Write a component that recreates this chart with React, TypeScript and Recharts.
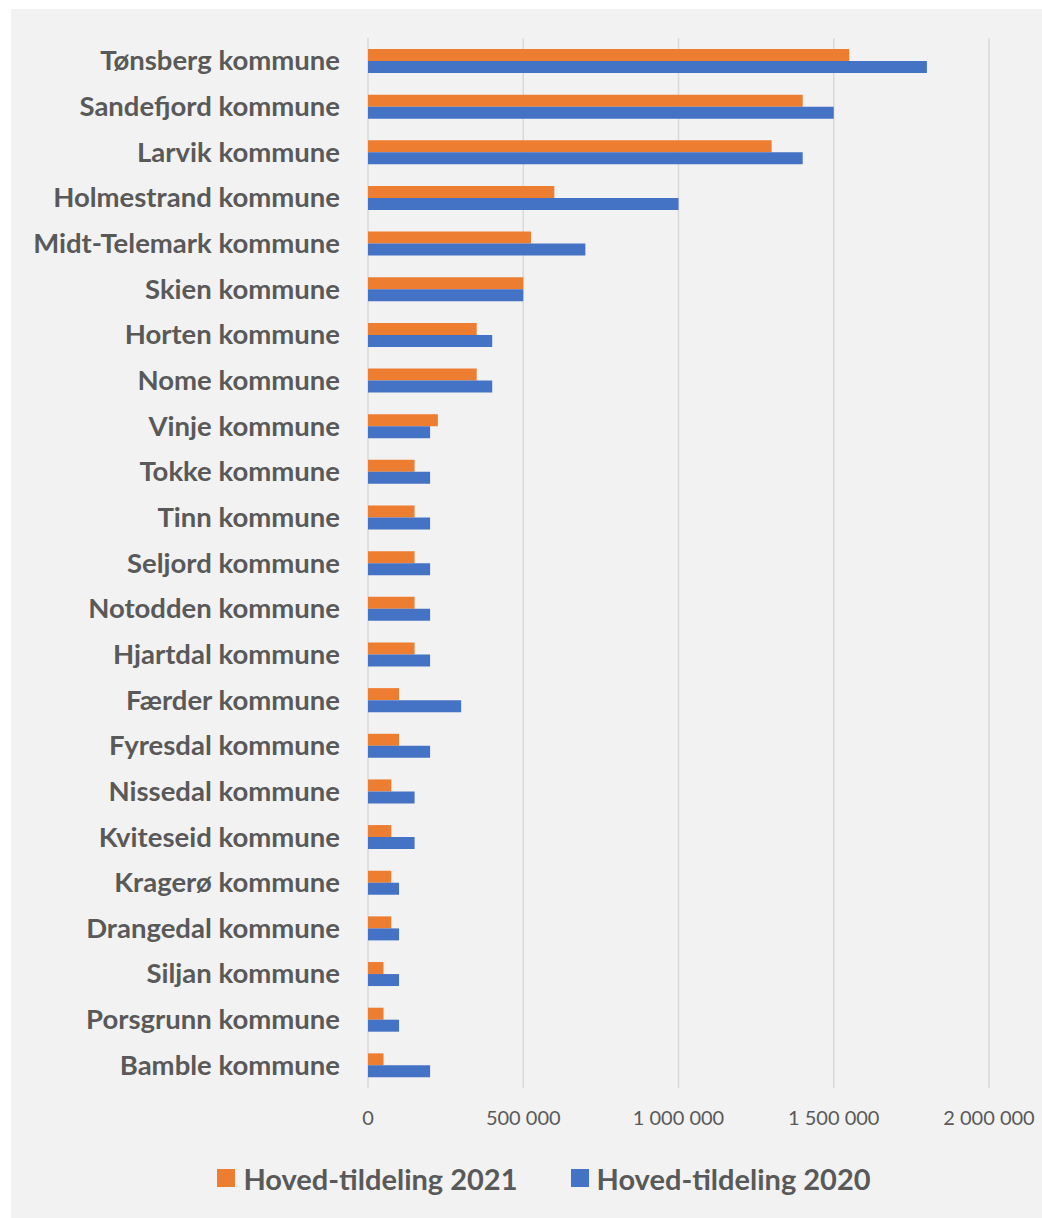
import { BarChart, Bar, XAxis, YAxis, CartesianGrid, Legend } from 'recharts';

const municipalities = [
  'Tønsberg kommune',
  'Sandefjord kommune',
  'Larvik kommune',
  'Holmestrand kommune',
  'Midt-Telemark kommune',
  'Skien kommune',
  'Horten kommune',
  'Nome kommune',
  'Vinje kommune',
  'Tokke kommune',
  'Tinn kommune',
  'Seljord kommune',
  'Notodden kommune',
  'Hjartdal kommune',
  'Færder kommune',
  'Fyresdal kommune',
  'Nissedal kommune',
  'Kviteseid kommune',
  'Kragerø kommune',
  'Drangedal kommune',
  'Siljan kommune',
  'Porsgrunn kommune',
  'Bamble kommune',
];

const tildeling2021 = [
  1550000, 1400000, 1300000, 600000, 525000, 500000, 350000, 350000, 225000, 150000, 150000,
  150000, 150000, 150000, 100000, 100000, 75000, 75000, 75000, 75000, 50000, 50000, 50000,
];

const tildeling2020 = [
  1800000, 1500000, 1400000, 1000000, 700000, 500000, 400000, 400000, 200000, 200000, 200000,
  200000, 200000, 200000, 300000, 200000, 150000, 150000, 100000, 100000, 100000, 100000, 200000,
];

const xTicks = [0, 500000, 1000000, 1500000, 2000000];

const chartData = municipalities.map((name, i) => ({
  name,
  y2021: tildeling2021[i],
  y2020: tildeling2020[i],
}));

const TEXT = '#595959';
const ORANGE = '#ED7D31';
const BLUE = '#4472C4';
const FONT = 'Lato, "Open Sans", sans-serif';

const fmt = (v: number) => String(v).replace(/\B(?=(\d{3})+(?!\d))/g, ' ');

function CategoryTick(props: any) {
  const { x, y, payload } = props;
  return (
    <text
      x={x - 28}
      y={y}
      dy="0.35em"
      textAnchor="end"
      fill={TEXT}
      fontSize={27.5}
      fontWeight={700}
      fontFamily={FONT}
    >
      {payload.value}
    </text>
  );
}

function LegendContent() {
  const items = [
    { label: 'Hoved-tildeling 2021', color: ORANGE },
    { label: 'Hoved-tildeling 2020', color: BLUE },
  ];
  return (
    <div
      style={{
        display: 'flex',
        justifyContent: 'center',
        alignItems: 'center',
        gap: 53,
        height: 90,
        paddingTop: 10,
        paddingLeft: 35,
        boxSizing: 'border-box',
        fontFamily: FONT,
      }}
    >
      {items.map((it) => (
        <div key={it.label} style={{ display: 'flex', alignItems: 'center', gap: 8 }}>
          <span style={{ width: 18, height: 18, background: it.color, display: 'inline-block' }} />
          <span style={{ color: TEXT, fontSize: 29, fontWeight: 700 }}>{it.label}</span>
        </div>
      ))}
    </div>
  );
}

export default function App() {
  return (
    <div
      style={{
        position: 'absolute',
        left: 11,
        top: 9,
        width: 1031,
        height: 1209,
        background: '#f2f2f2',
      }}
    >
      <BarChart
        width={1031}
        height={1209}
        data={chartData}
        layout="vertical"
        margin={{ top: 29, right: 53, left: 0, bottom: 0 }}
        barCategoryGap="23.7%"
        barGap={0}
      >
        <CartesianGrid vertical horizontal={false} stroke="#d9d9d9" strokeWidth={1.5} />
        <XAxis
          type="number"
          domain={[0, 2000000]}
          ticks={xTicks}
          tickFormatter={fmt}
          axisLine={false}
          tickLine={false}
          tickSize={0}
          tickMargin={23}
          height={40}
          tick={{ fill: TEXT, fontSize: 20, fontFamily: FONT }}
        />
        <YAxis
          type="category"
          dataKey="name"
          width={357}
          axisLine={false}
          tickLine={false}
          tickSize={0}
          tickMargin={0}
          interval={0}
          tick={<CategoryTick />}
        />
        <Legend
          verticalAlign="bottom"
          height={90}
          content={<LegendContent />}
          wrapperStyle={{ left: 0, width: 1031 }}
        />
        <Bar dataKey="y2021" name="Hoved-tildeling 2021" fill={ORANGE} barSize={12} isAnimationActive={false} />
        <Bar dataKey="y2020" name="Hoved-tildeling 2020" fill={BLUE} barSize={12} isAnimationActive={false} />
      </BarChart>
    </div>
  );
}
